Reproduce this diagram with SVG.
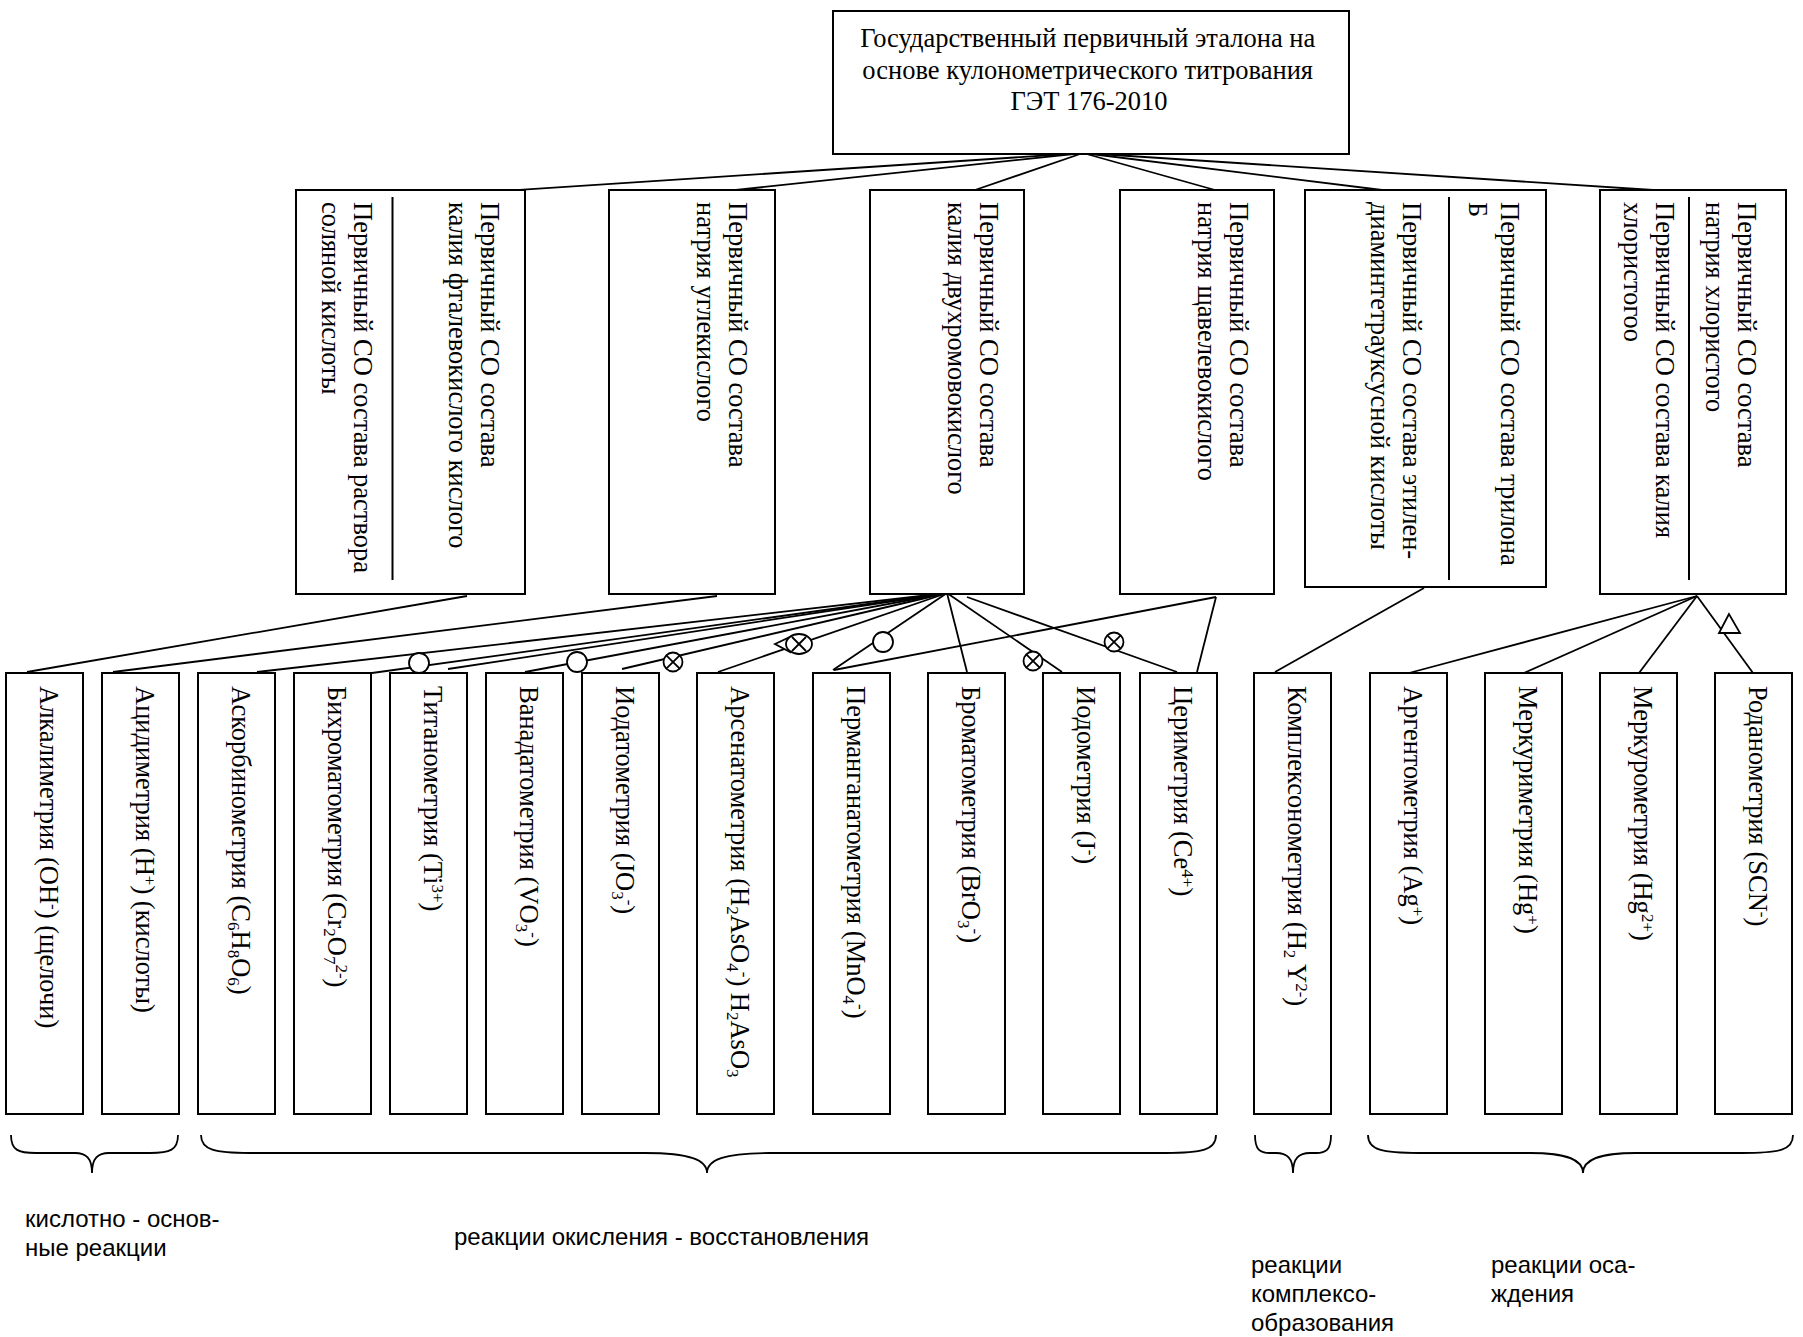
<svg xmlns="http://www.w3.org/2000/svg" width="1803" height="1337" viewBox="0 0 1803 1337">
<style>
.box{fill:#fff;stroke:#000;stroke-width:2}
.div{stroke:#000;stroke-width:2}
.t{font-family:"Liberation Serif","Times New Roman",serif;font-size:26.5px;fill:#000}
.lbl{font-family:"Liberation Sans",Arial,sans-serif;font-size:24px;fill:#000}
.ln{stroke:#000;stroke-width:1.8;fill:none}
.mk{fill:#fff;stroke:#000;stroke-width:1.8}
.br{fill:none;stroke:#000;stroke-width:1.8}
.sb{font-size:17px;baseline-shift:-4px}
.sp{font-size:17px;baseline-shift:8px}
</style>
<rect width="1803" height="1337" fill="#fff"/>

<g id="connectors">
  <line class="ln" x1="1083" y1="153" x2="487" y2="192"/>
  <line class="ln" x1="1083" y1="153" x2="717" y2="192"/>
  <line class="ln" x1="1083" y1="153" x2="975" y2="190"/>
  <line class="ln" x1="1083" y1="153" x2="1215" y2="190"/>
  <line class="ln" x1="1083" y1="153" x2="1382" y2="190"/>
  <line class="ln" x1="1083" y1="153" x2="1653" y2="190"/>
  <line class="ln" x1="467" y1="596" x2="27" y2="672"/>
  <line class="ln" x1="717" y1="596" x2="113" y2="672"/>
  <line class="ln" x1="947" y1="593" x2="257" y2="672"/>
  <line class="ln" x1="947" y1="593" x2="372" y2="673"/>
  <line class="ln" x1="947" y1="593" x2="448" y2="669"/>
  <line class="ln" x1="947" y1="593" x2="525" y2="672"/>
  <line class="ln" x1="947" y1="593" x2="622" y2="669"/>
  <line class="ln" x1="947" y1="593" x2="718" y2="672"/>
  <line class="ln" x1="947" y1="593" x2="833" y2="670"/>
  <line class="ln" x1="947" y1="593" x2="967" y2="672"/>
  <line class="ln" x1="947" y1="593" x2="1062" y2="672"/>
  <line class="ln" x1="967" y1="597" x2="1177" y2="672"/>
  <line class="ln" x1="1216" y1="597" x2="834" y2="670"/>
  <line class="ln" x1="1216" y1="597" x2="1197" y2="672"/>
  <line class="ln" x1="1424" y1="588" x2="1275" y2="672"/>
  <line class="ln" x1="1697" y1="596" x2="1409" y2="673"/>
  <line class="ln" x1="1697" y1="596" x2="1524" y2="673"/>
  <line class="ln" x1="1697" y1="596" x2="1639" y2="673"/>
  <line class="ln" x1="1697" y1="596" x2="1753" y2="673"/>
  <circle class="mk" cx="419" cy="663" r="10"/>
  <circle class="mk" cx="577" cy="662" r="10"/>
  <g>
    <circle class="mk" cx="673" cy="662" r="9.5"/>
    <line class="ln" x1="666.3" y1="655.3" x2="679.7" y2="668.7"/>
    <line class="ln" x1="679.7" y1="655.3" x2="666.3" y2="668.7"/>
  </g>
  <g>
    <polygon class="mk" points="775,644 790,637 790,652"/>
    <ellipse class="mk" cx="799" cy="644" rx="13" ry="10"/>
    <line class="ln" x1="792" y1="637" x2="806" y2="651"/>
    <line class="ln" x1="806" y1="637" x2="792" y2="651"/>
  </g>
  <circle class="mk" cx="883" cy="642" r="10"/>
  <g>
    <circle class="mk" cx="1033" cy="661" r="9.5"/>
    <line class="ln" x1="1026.3" y1="654.3" x2="1039.7" y2="667.7"/>
    <line class="ln" x1="1039.7" y1="654.3" x2="1026.3" y2="667.7"/>
  </g>
  <g>
    <circle class="mk" cx="1114" cy="642" r="9.5"/>
    <line class="ln" x1="1107.3" y1="635.3" x2="1120.7" y2="648.7"/>
    <line class="ln" x1="1120.7" y1="635.3" x2="1107.3" y2="648.7"/>
  </g>
  <polygon class="mk" points="1729,614 1719,633 1740,633"/>
</g>

<g id="title">
  <rect class="box" x="833" y="11" width="516" height="143"/>
  <text class="t" text-anchor="middle">
    <tspan x="1091" y="47">Государственный первичный эталона на</tspan>
    <tspan x="1091" y="79">основе кулонометрического титрования</tspan>
    <tspan x="1089" y="110">ГЭТ 176-2010</tspan>
  </text>
</g>

<g id="so1">
  <rect class="box" x="296" y="190" width="229" height="404"/>
  <line class="div" x1="392.5" y1="197" x2="392.5" y2="580"/>
  <text class="t" transform="translate(481,202) rotate(90)">Первичный СО состава<tspan x="0" dy="32">калия фталевокислого кислого</tspan></text>
  <text class="t" transform="translate(354,202) rotate(90)">Первичный СО состава раствора<tspan x="0" dy="32">соляной кислоты</tspan></text>
</g>
<g id="so2">
  <rect class="box" x="609" y="190" width="166" height="404"/>
  <text class="t" transform="translate(729,202) rotate(90)">Первичный СО состава<tspan x="0" dy="32">натрия углекислого</tspan></text>
</g>
<g id="so3">
  <rect class="box" x="870" y="190" width="154" height="404"/>
  <text class="t" transform="translate(980,202) rotate(90)">Первичный СО состава<tspan x="0" dy="32">калия двухромовокислого</tspan></text>
</g>
<g id="so4">
  <rect class="box" x="1120" y="190" width="154" height="404"/>
  <text class="t" transform="translate(1230,202) rotate(90)">Первичный СО состава<tspan x="0" dy="32">натрия щавелевокислого</tspan></text>
</g>
<g id="so5">
  <rect class="box" x="1305" y="190" width="241" height="397"/>
  <line class="div" x1="1449" y1="197" x2="1449" y2="580"/>
  <text class="t" transform="translate(1501,202) rotate(90)">Первичный СО состава трилона<tspan x="0" dy="32">Б</tspan></text>
  <text class="t" transform="translate(1403,202) rotate(90)">Первичный СО состава этилен-<tspan x="0" dy="32">диаминтетрауксусной кислоты</tspan></text>
</g>
<g id="so6">
  <rect class="box" x="1600" y="190" width="186" height="404"/>
  <line class="div" x1="1689" y1="197" x2="1689" y2="580"/>
  <text class="t" transform="translate(1738,202) rotate(90)">Первичный СО состава<tspan x="0" dy="32">натрия хлористого</tspan></text>
  <text class="t" transform="translate(1656,202) rotate(90)">Первичный СО состава калия<tspan x="0" dy="32">хлористогоо</tspan></text>
</g>

<g id="m1"><rect class="box" x="6" y="673" width="77" height="441"/>
  <text class="t" transform="translate(40,686) rotate(90)">Алкалиметрия (OH<tspan class="sp">-</tspan>) (щелочи)</text></g>
<g id="m2"><rect class="box" x="102" y="673" width="77" height="441"/>
  <text class="t" transform="translate(136,686) rotate(90)">Ацидиметрия (H<tspan class="sp">+</tspan>) (кислоты)</text></g>
<g id="m3"><rect class="box" x="198" y="673" width="77" height="441"/>
  <text class="t" transform="translate(232,686) rotate(90)">Аскорбинометрия (C<tspan class="sb">6</tspan>H<tspan class="sb">8</tspan>O<tspan class="sb">6</tspan>)</text></g>
<g id="m4"><rect class="box" x="294" y="673" width="77" height="441"/>
  <text class="t" transform="translate(328,686) rotate(90)">Бихроматометрия (Cr<tspan class="sb">2</tspan>O<tspan class="sb">7</tspan><tspan class="sp">2-</tspan>)</text></g>
<g id="m5"><rect class="box" x="390" y="673" width="77" height="441"/>
  <text class="t" transform="translate(424,686) rotate(90)">Титанометрия (Ti<tspan class="sp">3+</tspan>)</text></g>
<g id="m6"><rect class="box" x="486" y="673" width="77" height="441"/>
  <text class="t" transform="translate(520,686) rotate(90)">Ванадатометрия (VO<tspan class="sb">3</tspan><tspan class="sp">-</tspan>)</text></g>
<g id="m7"><rect class="box" x="582" y="673" width="77" height="441"/>
  <text class="t" transform="translate(616,686) rotate(90)">Иодатометрия (JO<tspan class="sb">3</tspan><tspan class="sp">-</tspan>)</text></g>
<g id="m8"><rect class="box" x="697" y="673" width="77" height="441"/>
  <text class="t" transform="translate(731,686) rotate(90)">Арсенатометрия (H<tspan class="sb">2</tspan>AsO<tspan class="sb">4</tspan><tspan class="sp">-</tspan>) H<tspan class="sb">2</tspan>AsO<tspan class="sb">3</tspan></text></g>
<g id="m9"><rect class="box" x="813" y="673" width="77" height="441"/>
  <text class="t" transform="translate(847,686) rotate(90)">Перманганатометрия (MnO<tspan class="sb">4</tspan><tspan class="sp">-</tspan>)</text></g>
<g id="m10"><rect class="box" x="928" y="673" width="77" height="441"/>
  <text class="t" transform="translate(962,686) rotate(90)">Броматометрия (BrO<tspan class="sb">3</tspan><tspan class="sp">-</tspan>)</text></g>
<g id="m11"><rect class="box" x="1043" y="673" width="77" height="441"/>
  <text class="t" transform="translate(1077,686) rotate(90)">Иодометрия (J<tspan class="sp">-</tspan>)</text></g>
<g id="m12"><rect class="box" x="1140" y="673" width="77" height="441"/>
  <text class="t" transform="translate(1174,686) rotate(90)">Цериметрия (Ce<tspan class="sp">4+</tspan>)</text></g>
<g id="m13"><rect class="box" x="1254" y="673" width="77" height="441"/>
  <text class="t" transform="translate(1288,686) rotate(90)">Комплексонометрия (H<tspan class="sb">2</tspan> Y<tspan class="sp">2-</tspan>)</text></g>
<g id="m14"><rect class="box" x="1370" y="673" width="77" height="441"/>
  <text class="t" transform="translate(1404,686) rotate(90)">Аргентометрия (Ag<tspan class="sp">+</tspan>)</text></g>
<g id="m15"><rect class="box" x="1485" y="673" width="77" height="441"/>
  <text class="t" transform="translate(1519,686) rotate(90)">Меркуриметрия (Hg<tspan class="sp">+</tspan>)</text></g>
<g id="m16"><rect class="box" x="1600" y="673" width="77" height="441"/>
  <text class="t" transform="translate(1634,686) rotate(90)">Меркурометрия (Hg<tspan class="sp">2+</tspan>)</text></g>
<g id="m17"><rect class="box" x="1715" y="673" width="77" height="441"/>
  <text class="t" transform="translate(1749,686) rotate(90)">Роданометрия (SCN<tspan class="sp">-</tspan>)</text></g>

<g id="braces">
  <path class="br" d="M11,1135 C11,1150 18,1153 36,1153 L75,1153 C86,1153 92,1158 92,1173 C92,1158 98,1153 109,1153 L150,1153 C170,1153 178,1150 178,1135"/>
  <path class="br" d="M201,1135 C201,1150 215,1153 250,1153 L645,1153 C690,1153 707,1160 707,1173 C707,1160 724,1153 769,1153 L1165,1153 C1202,1153 1216,1150 1216,1135"/>
  <path class="br" d="M1255,1135 C1255,1150 1260,1153 1270,1153 L1276,1153 C1287,1153 1293,1158 1293,1173 C1293,1158 1299,1153 1310,1153 L1316,1153 C1326,1153 1331,1150 1331,1135"/>
  <path class="br" d="M1368,1135 C1368,1150 1382,1153 1420,1153 L1530,1153 C1568,1153 1583,1160 1583,1173 C1583,1160 1598,1153 1636,1153 L1742,1153 C1780,1153 1793,1150 1793,1135"/>
</g>

<g id="labels">
  <text class="lbl"><tspan x="25" y="1227">кислотно - основ-</tspan><tspan x="25" y="1256">ные реакции</tspan></text>
  <text class="lbl" x="454" y="1245">реакции окисления - восстановления</text>
  <text class="lbl"><tspan x="1251" y="1273">реакции</tspan><tspan x="1251" y="1302">комплексо-</tspan><tspan x="1251" y="1331">образования</tspan></text>
  <text class="lbl"><tspan x="1491" y="1273">реакции оса-</tspan><tspan x="1491" y="1302">ждения</tspan></text>
</g>
</svg>
